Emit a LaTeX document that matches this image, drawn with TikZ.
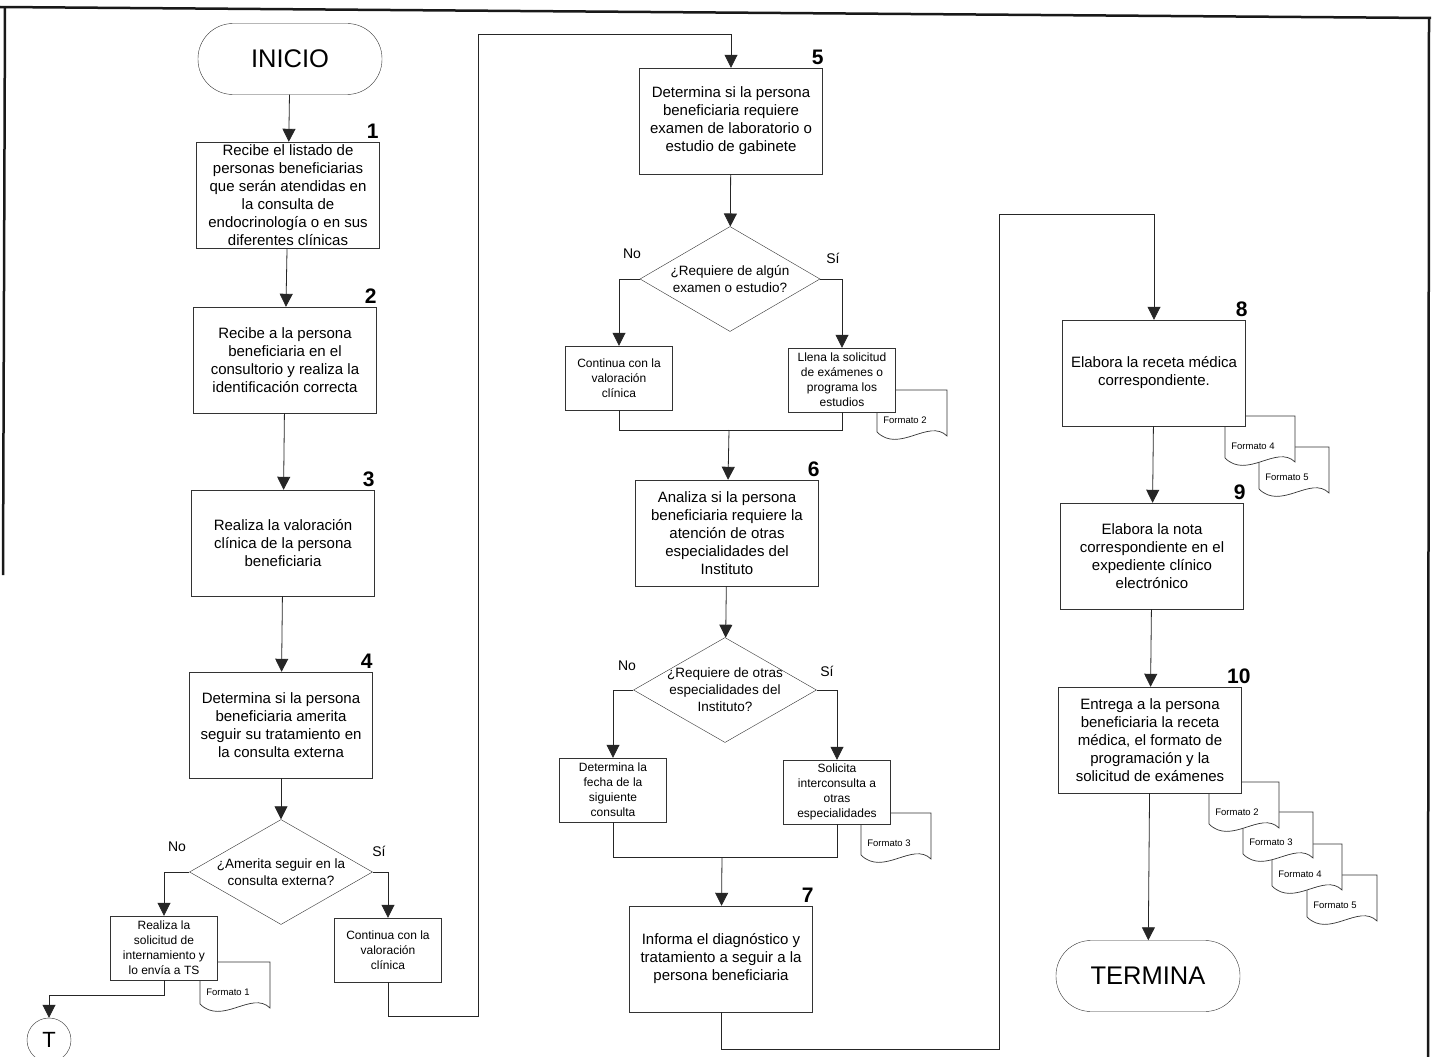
\documentclass[tikz,border=0pt]{standalone}
\usepackage{fontspec}
\setmainfont{Liberation Sans}
\usetikzlibrary{shapes.geometric, arrows.meta, positioning}

\tikzset{
    pics/formato/.style={code={
        \draw[draw=black!80, fill=white, line width=0.7pt] (0,0) -- (70,0) -- (70,46)
            .. controls (52,28) and (22,64) .. (0,42) -- cycle;
        \node[font=\fontsize{9.5}{11}\selectfont, inner sep=0pt] at (28,30) {Formato #1};
    }}
}

\begin{document}
\begin{tikzpicture}[
    x=1pt, y=-1pt, >={Triangle[width=13pt,length=13pt]},
    proc/.style={draw=black!80, fill=white, minimum width=183pt, minimum height=106pt, inner sep=0pt, align=center, font=\fontsize{15}{18}\selectfont},
    small/.style={draw=black!80, fill=white, minimum width=107pt, minimum height=64pt, inner sep=0pt, align=center, font=\fontsize{12}{15}\selectfont},
    decision/.style={diamond, draw=black!80, fill=white, minimum width=183pt, minimum height=105pt, inner sep=0pt},
    qtext/.style={align=center, inner sep=0pt, font=\fontsize{13.5}{17}\selectfont},
    terminal/.style={draw=black!80, rounded corners=35pt, minimum width=184pt, minimum height=71pt, font=\fontsize{25.5}{30}\selectfont},
    conector/.style={circle, draw=black!80, minimum size=44pt, inner sep=0pt, font=\fontsize{22}{24}\selectfont},
    num/.style={anchor=base east, inner sep=0pt, font=\bfseries\fontsize{21}{24}\selectfont},
    yn/.style={inner sep=0pt, font=\fontsize{14}{16}\selectfont},
    conn/.style={draw=black!85, line width=0.8pt},
    frame/.style={draw=black!90, line width=2.5pt}
]
\useasboundingbox (0,0) rectangle (1436,1057);

% Frame
\draw[frame] (0,7) -- (1431,18);
\draw[frame] (5,7) -- (3,575);
\draw[frame] (1429,18) -- (1428,1057);

% Formats (drawn first so the boxes lie on top)
\pic at (200,962) {formato=1};
\pic at (877,390) {formato=2};
\pic at (861,813) {formato=3};
\pic at (1259,447) {formato=5};
\pic at (1225,416) {formato=4};
\pic at (1307,875) {formato=5};
\pic at (1272,844) {formato=4};
\pic at (1243,812) {formato=3};
\pic at (1209,782) {formato=2};

% First column
\node[terminal] (inicio) at (290,59) {INICIO};
\node[proc] (b1) at (288,195) {Recibe el listado de\\personas beneficiarias\\que serán atendidas en\\la consulta de\\endocrinología o en sus\\diferentes clínicas};
\node[proc] (b2) at (285,360) {Recibe a la persona\\beneficiaria en el\\consultorio y realiza la\\identificación correcta};
\node[proc] (b3) at (283,543) {Realiza la valoración\\clínica de la persona\\beneficiaria};
\node[proc] (b4) at (281,725) {Determina si la persona\\beneficiaria amerita\\seguir su tratamiento en\\la consulta externa};
\node[decision] (d1) at (281,872) {};
\node[qtext] (q1) at (d1) {¿Amerita seguir en la\\consulta externa?};
\node[small] (c4a) at (164,948) {Realiza la\\solicitud de\\internamiento y\\lo envía a TS};
\node[small] (c4b) at (388,950) {Continua con la\\valoración\\clínica};
\node[conector] (conT) at (49,1040) {T};

% Second column
\node[proc] (b5) at (731,121) {Determina si la persona\\beneficiaria requiere\\examen de laboratorio o\\estudio de gabinete};
\node[decision, minimum width=180pt] (d2) at (730,279) {};
\node[qtext] (q2) at (d2) {¿Requiere de algún\\examen o estudio?};
\node[small] (c5a) at (619,378) {Continua con la\\valoración\\clínica};
\node[small] (c5b) at (842,380) {Llena la solicitud\\de exámenes o\\programa los\\estudios};
\node[proc] (b6) at (727,533) {Analiza si la persona\\beneficiaria requiere la\\atención de otras\\especialidades del\\Instituto};
\node[decision] (d3) at (725,690) {};
\node[qtext] (q3) at (d3) {¿Requiere de otras\\especialidades del\\Instituto?};
\node[small] (c6a) at (613,790) {Determina la\\fecha de la\\siguiente\\consulta};
\node[small] (c6b) at (837,792) {Solicita\\interconsulta a\\otras\\especialidades};
\node[proc] (b7) at (721,959) {Informa el diagnóstico y\\tratamiento a seguir a la\\persona beneficiaria};

% Third column
\node[proc] (b8) at (1154,373) {Elabora la receta médica\\correspondiente.};
\node[proc] (b9) at (1152,556) {Elabora la nota\\correspondiente en el\\expediente clínico\\electrónico};
\node[proc] (b10) at (1150,740) {Entrega a la persona\\beneficiaria la receta\\médica, el formato de\\programación y la\\solicitud de exámenes};
\node[terminal] (termina) at (1148,976) {TERMINA};

% Step numbers
\node[num, xshift=-1pt, yshift=3.5pt] (n1) at (b1.north east) {1};
\node[num, yshift=3.5pt] (n2) at (b2.north east) {2};
\node[num, yshift=3.5pt] (n3) at (b3.north east) {3};
\node[num, yshift=3.5pt] (n4) at (b4.north east) {4};
\node[num, xshift=1pt, yshift=3.5pt] (n5) at (b5.north east) {5};
\node[num, xshift=1pt, yshift=3.5pt] (n6) at (b6.north east) {6};
\node[num, xshift=1pt, yshift=3.5pt] (n7) at (b7.north east) {7};
\node[num, xshift=2pt, yshift=3.5pt] (n8) at (b8.north east) {8};
\node[num, xshift=2pt, yshift=3.5pt] (n9) at (b9.north east) {9};
\node[num, xshift=9pt, yshift=3.5pt] (n10) at (b10.north east) {10};

% Answers
\node[yn] (no1) at (177,847) {No};
\node[yn] (si1) at (379,851) {Sí};
\node[yn] (no2) at (632,254) {No};
\node[yn] (si2) at (833,258) {Sí};
\node[yn] (no3) at (627,666) {No};
\node[yn] (si3) at (827,671) {Sí};

% Bend points
\coordinate (r1a) at (478,1016);
\coordinate (r1b) at (731,34);
\coordinate (j5) at (729,430);
\coordinate (j6) at (722,857);
\coordinate (r2a) at (999,1049);
\coordinate (r2b) at (1154,214);

% Connectors, first column
\draw[conn, ->] (inicio) -- (b1);
\draw[conn, ->] (b1) -- (b2);
\draw[conn, ->] (b2) -- (b3);
\draw[conn, ->] (b3) -- (b4);
\draw[conn, ->] (b4) -- (d1);
\draw[conn, ->] (d1.west) -| (c4a.north);
\draw[conn, ->] (d1.east) -| (c4b.north);
\draw[conn, ->] (c4a.south) -- ++(0,15) -| (conT.north);
\draw[conn, ->] (c4b.south) |- (r1a) |- (r1b) -- (b5.north);

% Connectors, second column
\draw[conn, ->] (b5) -- (d2);
\draw[conn, ->] (d2.west) -| (c5a.north);
\draw[conn, ->] (d2.east) -| (c5b.north);
\draw[conn] (c5a.south) |- (c5b.south |- j5) -- (c5b.south);
\draw[conn, ->] (j5) -- (b6);
\draw[conn, ->] (b6) -- (d3);
\draw[conn, ->] (d3.west) -| (c6a.north);
\draw[conn, ->] (d3.east) -| (c6b.north);
\draw[conn] (c6a.south) |- (c6b.south |- j6) -- (c6b.south);
\draw[conn, ->] (j6) -- (b7);
\draw[conn, ->] (b7.south) |- (r2a) |- (r2b) -- (b8.north);

% Connectors, third column
\draw[conn, ->] (b8) -- (b9);
\draw[conn, ->] (b9) -- (b10);
\draw[conn, ->] (b10) -- (termina);

\end{tikzpicture}
\end{document}
